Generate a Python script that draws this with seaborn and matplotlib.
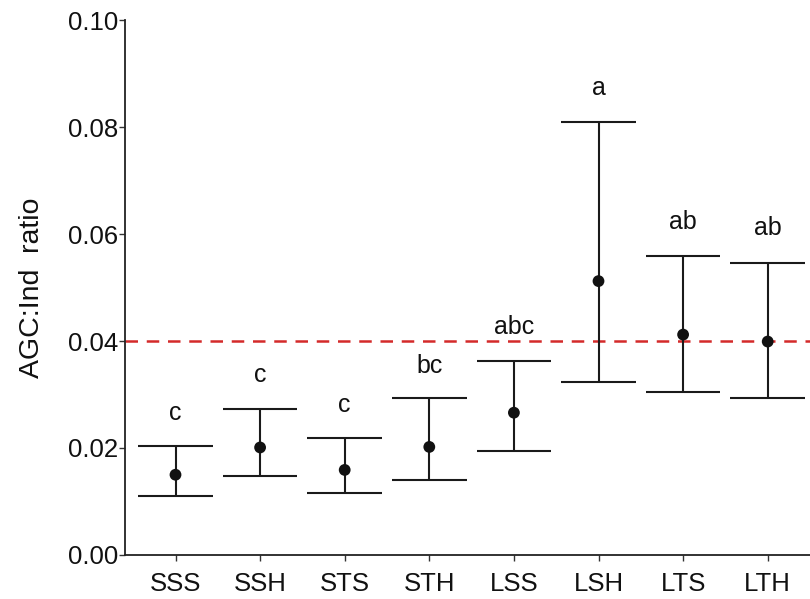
import matplotlib
matplotlib.use("Agg")
import matplotlib.pyplot as plt
import numpy as np
import pandas as pd
import seaborn as sns

# nilai
groups = ["SSS", "SSH", "STS", "STH", "LSS", "LSH", "LTS", "LTH"]
means = [0.0150, 0.0201, 0.0159, 0.0202, 0.0266, 0.0512, 0.0412, 0.0399]
lower = [0.0110, 0.0148, 0.0115, 0.0141, 0.0194, 0.0324, 0.0304, 0.0293]
upper = [0.0204, 0.0273, 0.0218, 0.0293, 0.0363, 0.0810, 0.0559, 0.0546]
letters = ["c", "c", "c", "bc", "abc", "a", "ab", "ab"]
letter_y = [0.0265, 0.0336, 0.0280, 0.0353, 0.0426, 0.0873, 0.0622, 0.0611]
ref_line = 0.04

df = pd.DataFrame({"group": groups, "mean": means, "lo": lower, "hi": upper})

sns.set_style("ticks")
plt.rcParams["font.family"] = ["Liberation Sans", "DejaVu Sans"]

fig = plt.figure(figsize=(8.1, 5.99), dpi=100)
ax = fig.add_axes([0.154, 0.0735, 0.846, 0.893])

x = np.arange(len(groups))
cap = 0.44

# garis error + cap
ax.vlines(x, df["lo"], df["hi"], color="#1a1a1a", lw=1.5, zorder=2)
ax.hlines(df["lo"], x - cap, x + cap, color="#1a1a1a", lw=1.5, zorder=2)
ax.hlines(df["hi"], x - cap, x + cap, color="#1a1a1a", lw=1.5, zorder=2)

ax.axhline(ref_line, color="#d42a2a", lw=1.8, ls=(0, (5, 3.5)), zorder=1)

sns.scatterplot(x=x, y=df["mean"], ax=ax, color="#111111", s=72,
                edgecolor="none", zorder=3, legend=False)

for xi, lab, ly in zip(x, letters, letter_y):
    ax.text(xi, ly, lab, ha="center", va="center", fontsize=18, color="#111111")

ax.set_xlim(-0.6, 7.5)
ax.set_ylim(0, 0.10)
ax.set_yticks([0.00, 0.02, 0.04, 0.06, 0.08, 0.10])
ax.set_yticklabels(["0.00", "0.02", "0.04", "0.06", "0.08", "0.10"])
ax.set_xticks(x)
ax.set_xticklabels(groups)
ax.tick_params(axis="both", labelsize=18.5, length=4, width=1.0, color="#333333",
               labelcolor="#111111")
ax.tick_params(axis="y", pad=0.8)
ax.tick_params(axis="x", pad=8)
ax.set_ylabel("AGC:Ind  ratio", fontsize=20.5, color="#111111")
ax.yaxis.set_label_coords(-0.117, 0.5)
ax.set_xlabel("")

sns.despine(ax=ax)
for sp in ["left", "bottom"]:
    ax.spines[sp].set_linewidth(1.3)
    ax.spines[sp].set_color("#222222")

fig.savefig("out.png", dpi=100, facecolor="white")
plt.close(fig)
